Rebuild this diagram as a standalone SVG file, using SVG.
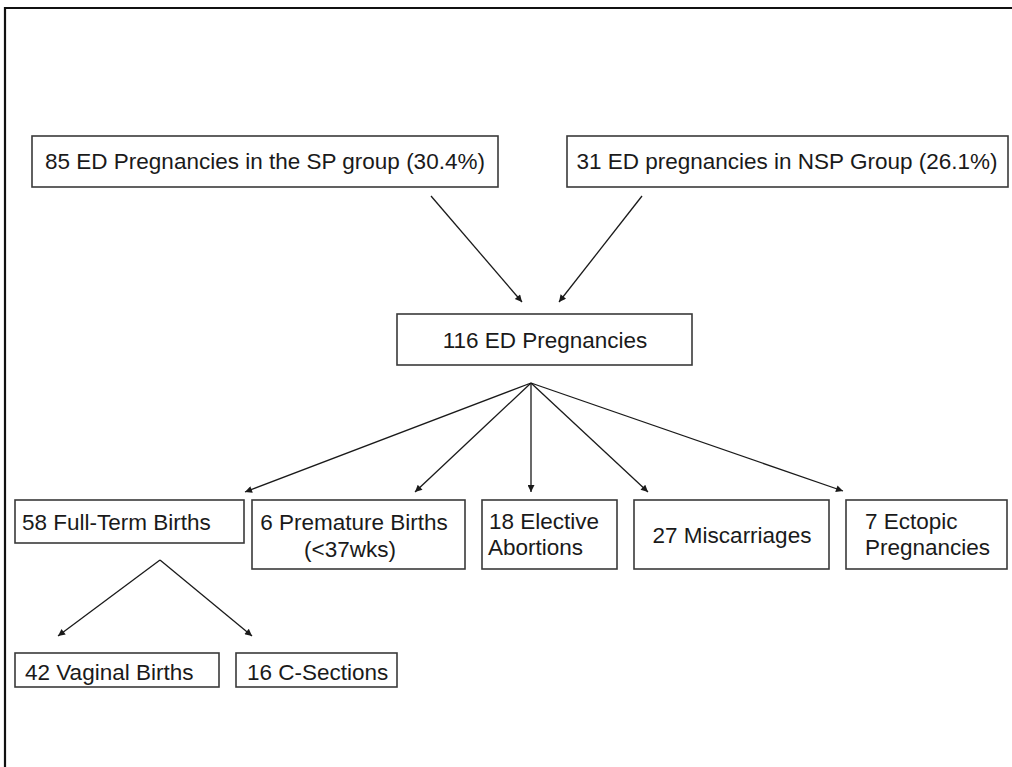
<svg xmlns="http://www.w3.org/2000/svg" width="1012" height="767" viewBox="0 0 1012 767">
<style>
.box{fill:#fff;stroke:#3a3a3a;stroke-width:1.6}
.t{font-family:"Liberation Sans",Arial,sans-serif;font-size:22.5px;fill:#1a1a1a}
.c{text-anchor:middle}
.ln{stroke:#1a1a1a;stroke-width:1.3;fill:none}
</style>
<defs>
<marker id="ah" viewBox="0 0 10 10" refX="10" refY="5" markerWidth="10" markerHeight="7" markerUnits="userSpaceOnUse" orient="auto">
<path d="M0,0 L10,5 L0,10 z" fill="#1a1a1a"/>
</marker>
</defs>
<rect width="1012" height="767" fill="#fff"/>
<path d="M5,767 V8 H1012" fill="none" stroke="#111" stroke-width="2.2"/>
<g id="connectors">
<line class="ln" x1="431" y1="196" x2="522" y2="302" marker-end="url(#ah)"/>
<line class="ln" x1="642" y1="196" x2="559" y2="302" marker-end="url(#ah)"/>
<line class="ln" x1="531" y1="383" x2="245" y2="492" marker-end="url(#ah)"/>
<line class="ln" x1="531" y1="383" x2="415" y2="492" marker-end="url(#ah)"/>
<line class="ln" x1="531" y1="383" x2="531" y2="492" marker-end="url(#ah)"/>
<line class="ln" x1="531" y1="383" x2="648" y2="492" marker-end="url(#ah)"/>
<line class="ln" x1="531" y1="383" x2="843" y2="491" marker-end="url(#ah)"/>
<line class="ln" x1="160" y1="560" x2="58" y2="636" marker-end="url(#ah)"/>
<line class="ln" x1="160" y1="560" x2="252" y2="636" marker-end="url(#ah)"/>
</g>
<g id="sp">
<rect class="box" x="32" y="136" width="466" height="51"/>
<text class="t c" x="265" y="169">85 ED Pregnancies in the SP group (30.4%)</text>
</g>
<g id="nsp">
<rect class="box" x="567" y="136" width="441" height="51"/>
<text class="t c" x="787" y="169">31 ED pregnancies in NSP Group (26.1%)</text>
</g>
<g id="total">
<rect class="box" x="397" y="314" width="295" height="51"/>
<text class="t c" x="545" y="348">116 ED Pregnancies</text>
</g>
<g id="fullterm">
<rect class="box" x="15" y="500" width="229" height="43"/>
<text class="t" x="22" y="530">58 Full-Term Births</text>
</g>
<g id="premature">
<rect class="box" x="252" y="500" width="213" height="69"/>
<text class="t c" x="354" y="530">6 Premature Births</text>
<text class="t c" x="350" y="557">(&lt;37wks)</text>
</g>
<g id="elective">
<rect class="box" x="482" y="500" width="135" height="69"/>
<text class="t" x="489" y="529">18 Elective</text>
<text class="t" x="488" y="555">Abortions</text>
</g>
<g id="miscarriages">
<rect class="box" x="634" y="500" width="195" height="69"/>
<text class="t c" x="732" y="543">27 Miscarriages</text>
</g>
<g id="ectopic">
<rect class="box" x="846" y="500" width="161" height="69"/>
<text class="t" x="865" y="529">7 Ectopic</text>
<text class="t" x="865" y="555">Pregnancies</text>
</g>
<g id="vaginal">
<rect class="box" x="15" y="653" width="204" height="34"/>
<text class="t" x="25" y="680">42 Vaginal Births</text>
</g>
<g id="csections">
<rect class="box" x="236" y="653" width="161" height="34"/>
<text class="t" x="247" y="680">16 C-Sections</text>
</g>
</svg>
